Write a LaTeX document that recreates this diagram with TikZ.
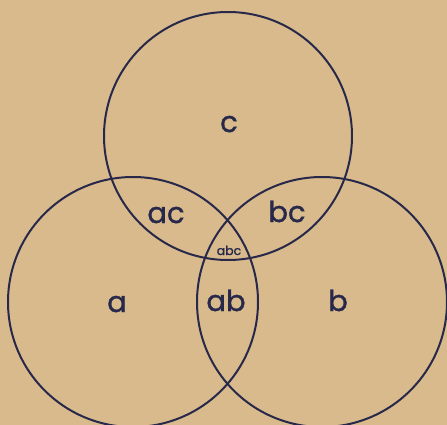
\documentclass[tikz,border=0pt]{standalone}
\usepackage{fontspec}
\setmainfont{Poppins}
\newfontfamily\lblfont[FakeBold=1.2]{Poppins}
\definecolor{paper}{HTML}{D9BA8C}
\definecolor{ink}{HTML}{27284A}
\begin{document}
\begin{tikzpicture}[x=1pt,y=-1pt,
  ring/.style={draw=ink,line width=2pt},
  lbl/.style={text=ink,anchor=base,inner sep=0pt,font=\lblfont\fontsize{29}{32}\selectfont},
  small/.style={text=ink,anchor=base,inner sep=0pt,font=\lblfont\fontsize{12.5}{14}\selectfont}]
\useasboundingbox (0,0) rectangle (447,425);
\fill[paper] (0,0) rectangle (447,425);
\clip (0,0) rectangle (447,425);
\node[ring,circle,minimum size=250pt,inner sep=0pt] (A) at (133,302) {};
\node[ring,circle,minimum size=250pt,inner sep=0pt] (B) at (322,302) {};
\node[ring,circle,minimum size=248pt,inner sep=0pt] (C) at (228,136) {};
\node[lbl] (lc) at (229,132) {c};
\node[lbl] (lac) at (166,223) {ac};
\node[lbl] (lbc) at (287,222) {bc};
\node[small] (labc) at (229,255) {abc};
\node[lbl] (la) at (117,312) {a};
\node[lbl] (lab) at (226,311) {ab};
\node[lbl] (lb) at (338,311) {b};
\end{tikzpicture}
\end{document}
